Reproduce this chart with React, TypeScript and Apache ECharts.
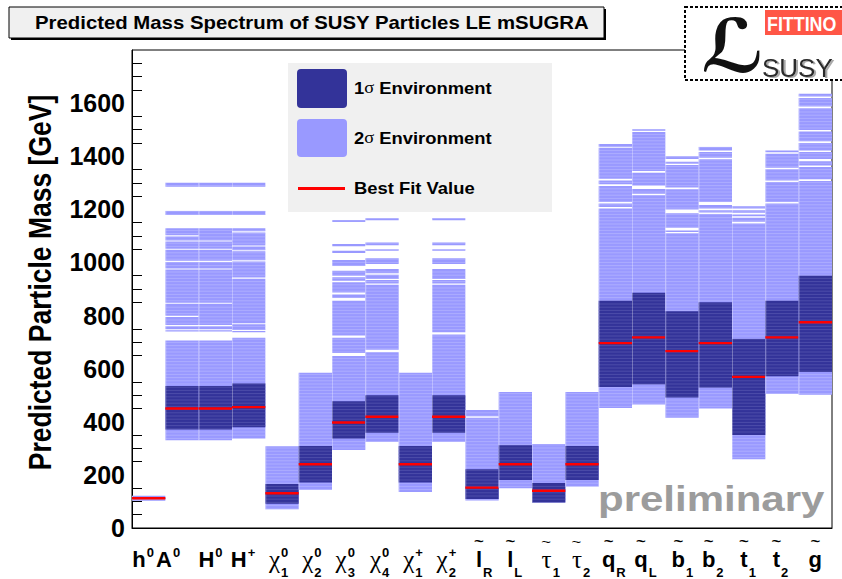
import React, { useEffect, useRef } from "react";
import * as echarts from "echarts";

// Particles on the x axis (one column each)
const particles = [
  "h0", "A0", "H0", "H+", "chi10", "chi20", "chi30", "chi40", "chi1+", "chi2+",
  "selR", "selL", "stau1", "stau2", "sqR", "sqL", "sb1", "sb2", "st1", "st2", "gluino",
];

// Best fit masses [GeV]
const bestFit = [112, 450, 450, 455, 131, 240, 397, 419, 240, 419, 152, 240, 140, 240, 696, 718, 666, 696, 569, 718, 775];

// 1 sigma environment [GeV]
const sigma1Low = [110, 371, 371, 379, 91, 171, 337, 359, 171, 359, 109, 181, 96, 181, 531, 541, 491, 529, 350, 571, 587];
const sigma1High = [114, 535, 535, 544, 166, 309, 477, 500, 309, 500, 221, 312, 169, 309, 856, 886, 816, 850, 712, 856, 950];

// 2 sigma environment: populated mass bands [GeV]
const sigma2Bands: number[][][] = [
  [[103, 121]],
  [[1285, 1300], [1179, 1194], [1102, 1129], [1083, 1098], [1052, 1079], [1006, 1048], [977, 1002], [848, 973], [799, 844], [764, 795], [748, 760], [740, 745], [330, 706]],
  [[1285, 1300], [1179, 1194], [1083, 1129], [1052, 1079], [1006, 1048], [977, 1002], [848, 973], [764, 844], [748, 760], [740, 745], [330, 706]],
  [[1285, 1300], [1179, 1194], [1117, 1129], [1064, 1113], [1046, 1060], [1008, 1042], [943, 1004], [771, 939], [746, 767], [737, 742], [337, 716]],
  [[71, 308]],
  [[144, 585]],
  [[1152, 1160], [1061, 1069], [1036, 1044], [987, 1009], [950, 969], [931, 944], [887, 925], [866, 879], [725, 856], [659, 716], [294, 648]],
  [[1159, 1166], [1065, 1075], [1044, 1050], [994, 1016], [959, 975], [938, 954], [921, 934], [671, 916], [325, 662]],
  [[136, 585]],
  [[1159, 1166], [1065, 1075], [1044, 1050], [994, 1016], [938, 975], [921, 934], [737, 916], [325, 729]],
  [[104, 415], [421, 444]],
  [[150, 512]],
  [[96, 316]],
  [[156, 512]],
  [[1436, 1446], [1315, 1432], [1294, 1309], [1228, 1288], [1209, 1222], [452, 1203]],
  [[1496, 1502], [1344, 1491], [1290, 1338], [1259, 1277], [465, 1253]],
  [[1390, 1400], [1372, 1379], [1282, 1367], [1199, 1276], [1131, 1185], [1115, 1120], [415, 1110]],
  [[1422, 1435], [1394, 1416], [1228, 1389], [1203, 1216], [1188, 1197], [450, 1182]],
  [[1203, 1212], [1187, 1197], [1174, 1181], [1153, 1168], [259, 1147]],
  [[1415, 1422], [1357, 1409], [1309, 1351], [1228, 1303], [506, 1222]],
  [[1625, 1635], [1587, 1619], [1499, 1581], [1456, 1493], [1422, 1450], [1390, 1416], [1365, 1381], [1313, 1359], [502, 1307]],
];

// Tick label pieces: symbol, superscript, subscript, tilde
const labelMain = ["h", "A", "H", "H", "χ", "χ", "χ", "χ", "χ", "χ", "l", "l", "τ", "τ", "q", "q", "b", "b", "t", "t", "g"];
const labelSup = ["0", "0", "0", "+", "0", "0", "0", "0", "+", "+", "", "", "", "", "", "", "", "", "", "", ""];
const labelSub = ["", "", "", "", "1", "2", "3", "4", "1", "2", "R", "L", "1", "2", "R", "L", "1", "2", "1", "2", ""];
const labelTilde = [false, false, false, false, false, false, false, false, false, false, true, true, true, true, true, true, true, true, true, true, true];

// small horizontal nudges of the tick labels (px)
const labelNudge = [-3, -10, -1, -2, -2, -2, -2, -1, -1, -1, 0, -2, 3, 0, 0, -1, 3, 0, -1, -2, 0];

const FONT = '"Liberation Sans", Arial, Helvetica, sans-serif';
const SERIF = '"Liberation Serif", "Times New Roman", serif';
const SX = 1.15;
const LIGHT = "#9999ff";
const LIGHT_STRIPE = "rgba(200,200,255,0.55)";
const DARK = "#333399";
const DARK_STRIPE = "rgba(110,110,190,0.55)";
const STRIPE_PX = 3.2;

const glyphEm: Record<string, number> = {
  h: 0.611, A: 0.722, H: 0.722, "χ": 0.5, l: 0.278, "τ": 0.44, q: 0.611, b: 0.611, t: 0.333, g: 0.611,
};

function renderBars(_params: any, api: any) {
  const i = api.value(0) as number;
  const [cx, zero] = api.coord([i, 0]);
  const w = api.size([1, 0])[0];
  const x0 = cx - w / 2;
  const py = (v: number) => api.coord([i, v])[1];
  const children: any[] = [];

  const block = (lo: number, hi: number, fill: string, stripe: string) => {
    const top = py(hi);
    const bot = py(lo);
    children.push({ type: "rect", shape: { x: x0, y: top, width: w, height: bot - top }, style: { fill } });
    const nFirst = Math.ceil((zero - bot) / STRIPE_PX + 0.05);
    const nLast = Math.floor((zero - top) / STRIPE_PX - 0.05);
    for (let n = nFirst; n <= nLast; n++) {
      const y = zero - n * STRIPE_PX;
      children.push({ type: "line", shape: { x1: x0, y1: y, x2: x0 + w, y2: y }, style: { stroke: stripe, lineWidth: 0.8 } });
    }
  };

  const bands = sigma2Bands[i];
  bands.forEach(([lo, hi]) => block(lo, hi, LIGHT, LIGHT_STRIPE));
  block(sigma1Low[i], sigma1High[i], DARK, DARK_STRIPE);

  // faint seam between neighbouring columns
  const allLo = Math.min(...bands.map((b) => b[0]), sigma1Low[i]);
  const allHi = Math.max(...bands.map((b) => b[1]), sigma1High[i]);
  children.push({
    type: "line",
    shape: { x1: x0 + 0.5, y1: py(allHi), x2: x0 + 0.5, y2: py(allLo) },
    style: { stroke: "rgba(255,255,255,0.3)", lineWidth: 1 },
  });

  const yb = py(bestFit[i]);
  children.push({ type: "rect", shape: { x: x0, y: yb - 1.2, width: w, height: 2.4 }, style: { fill: "#ff0000" } });
  return { type: "group", children };
}

function txt(x: number, y: number, text: string, size: number, weight: string, family: string, align: string, scaleX = SX) {
  return {
    type: "text",
    x,
    y,
    scaleX,
    style: {
      text,
      fontSize: size,
      fontWeight: weight,
      fontFamily: family,
      fill: "#000",
      align,
      textAlign: align,
      verticalAlign: "middle",
      textVerticalAlign: "middle",
    },
  };
}

function renderLabels(_params: any, api: any) {
  const i = api.value(0) as number;
  const [cx, y0] = api.coord([i, 0]);
  const base = labelMain[i];
  const greek = base === "χ" || base === "τ";
  const size = greek ? 25 : 22;
  const mainW = (glyphEm[base] || 0.6) * size;
  const hasScript = labelSup[i] !== "" || labelSub[i] !== "";
  const ax = (hasScript ? cx : cx + mainW / 2) + labelNudge[i];
  const children: any[] = [];
  children.push(txt(ax, y0 + 31, base, size, greek ? "normal" : "bold", greek ? SERIF : FONT, "right", 1));
  if (labelTilde[i]) {
    children.push(txt(ax - mainW / 2, y0 + 14, "~", 12, greek ? "normal" : "bold", FONT, "center", 1.4));
  }
  if (labelSup[i]) children.push(txt(ax + 1, y0 + 24, labelSup[i], 13, "bold", FONT, "left", 1));
  if (labelSub[i]) children.push(txt(ax + 1, y0 + 44, labelSub[i], 13, "bold", FONT, "left", 1));
  return { type: "group", children };
}

const legendRich = {
  a: { fontSize: 16, fontWeight: "bold", fontFamily: FONT, fill: "#000", color: "#000" },
  s: { fontSize: 16, fontFamily: SERIF, fill: "#000", color: "#000" },
};

function legendText(y: number, text: string) {
  return {
    type: "text",
    x: 354,
    y,
    scaleX: SX,
    style: { text, rich: legendRich, fill: "#000", align: "left", textAlign: "left", verticalAlign: "middle", textVerticalAlign: "middle" },
  };
}

export default function App() {
  const ref = useRef<HTMLDivElement>(null);

  useEffect(() => {
    if (!ref.current) return;
    const chart = echarts.init(ref.current, null, { renderer: "svg" });
    const data = particles.map((_, i) => [i, bestFit[i]]);

    chart.setOption({
      animation: false,
      backgroundColor: "#ffffff",
      grid: { left: 132, right: 10, top: 50, bottom: 51, show: true, borderColor: "#000", borderWidth: 1, backgroundColor: "transparent" },
      xAxis: {
        type: "category",
        data: particles,
        boundaryGap: true,
        axisLine: { lineStyle: { color: "#000", width: 1 } },
        axisTick: { inside: true, length: 14, interval: 0, lineStyle: { color: "#000" } },
        axisLabel: { show: false },
        splitLine: { show: false },
      },
      yAxis: {
        type: "value",
        min: 0,
        max: 1800,
        interval: 200,
        axisLine: { show: true, lineStyle: { color: "#000" } },
        axisTick: { inside: true, length: 21, lineStyle: { color: "#000" } },
        minorTick: { show: true, splitNumber: 4, length: 10, lineStyle: { color: "#000" } },
        splitLine: { show: false },
        minorSplitLine: { show: false },
        axisLabel: {
          fontSize: 25, fontWeight: "bold", fontFamily: FONT, color: "#000", margin: 7, showMaxLabel: false,
          formatter: (v: number) => String(v),
        },
      },
      series: [
        { type: "custom", renderItem: renderBars, data, encode: { x: 0, y: 1 }, clip: true, z: 2, silent: true },
        { type: "custom", renderItem: renderLabels, data, encode: { x: 0, y: 1 }, clip: false, z: 3, silent: true },
      ],
      graphic: [
        // title box
        { type: "rect", z: 100, shape: { x: 11, y: 9, width: 595, height: 31 }, style: { fill: "#000" } },
        { type: "rect", z: 101, shape: { x: 9, y: 7, width: 595, height: 31 }, style: { fill: "#f0f0f0", stroke: "#000", lineWidth: 1 } },
        { ...txt(35, 23, "Predicted Mass Spectrum of SUSY Particles LE mSUGRA", 17.7, "bold", FONT, "left"), z: 102 },
        // legend
        { type: "rect", z: 100, shape: { x: 288, y: 63, width: 264, height: 149 }, style: { fill: "#f0f0f0" } },
        { type: "rect", z: 101, shape: { x: 297, y: 69, width: 50, height: 39, r: 4 }, style: { fill: DARK } },
        { type: "rect", z: 101, shape: { x: 297, y: 119, width: 50, height: 38, r: 4 }, style: { fill: LIGHT } },
        { type: "rect", z: 101, shape: { x: 298, y: 187, width: 47, height: 3 }, style: { fill: "#ff0000" } },
        { ...legendText(88, "{a|1}{s|σ}{a| Environment}"), z: 102 },
        { ...legendText(138, "{a|2}{s|σ}{a| Environment}"), z: 102 },
        { ...legendText(188, "{a|Best Fit Value}"), z: 102 },
        // preliminary stamp
        {
          type: "text", z: 102, x: 598, y: 499, scaleX: 1.2,
          style: { text: "preliminary", fontSize: 35, fontWeight: "bold", fontFamily: FONT, fill: "#9c9c9c", align: "left", textAlign: "left", verticalAlign: "middle", textVerticalAlign: "middle" },
        },
        // y axis title
        {
          type: "text", z: 102, x: 40, y: 282.5, rotation: Math.PI / 2, scaleY: SX,
          style: { text: "Predicted Particle Mass [GeV]", fontSize: 26.5, fontWeight: "bold", fontFamily: FONT, fill: "#000", align: "center", textAlign: "center", verticalAlign: "middle", textVerticalAlign: "middle" },
        },
        // Fittino logo
        { type: "rect", z: 110, shape: { x: 685, y: 7, width: 160, height: 73 }, style: { fill: "#fff", stroke: "#000", lineWidth: 2, lineDash: [3, 2] } },
        { type: "rect", z: 111, shape: { x: 765, y: 10, width: 77, height: 25 }, style: { fill: "#ff5646" } },
        {
          type: "text", z: 112, x: 767, y: 23, scaleX: 0.85,
          style: { text: "FITTINO", fontSize: 21, fontWeight: "bold", fontFamily: FONT, fill: "#fff", align: "left", textAlign: "left", verticalAlign: "middle", textVerticalAlign: "middle" },
        },
        {
          type: "text", z: 112, x: 733, y: 46,
          style: { text: "ℒ", fontSize: 74, fontWeight: "bold", fontFamily: '"DejaVu Sans", sans-serif', fill: "#111", align: "center", textAlign: "center", verticalAlign: "middle", textVerticalAlign: "middle" },
        },
        {
          type: "text", z: 112, x: 762, y: 68,
          style: { text: "SUSY", fontSize: 26, fontFamily: FONT, fill: "#2a2a2a", align: "left", textAlign: "left", verticalAlign: "middle", textVerticalAlign: "middle", textShadowColor: "#aaa", textShadowOffsetX: 2, textShadowOffsetY: 1, textShadowBlur: 1 },
        },
      ],
    });

    return () => chart.dispose();
  }, []);

  return <div ref={ref} style={{ position: "fixed", left: 0, top: 0, width: 842, height: 579 }} />;
}
